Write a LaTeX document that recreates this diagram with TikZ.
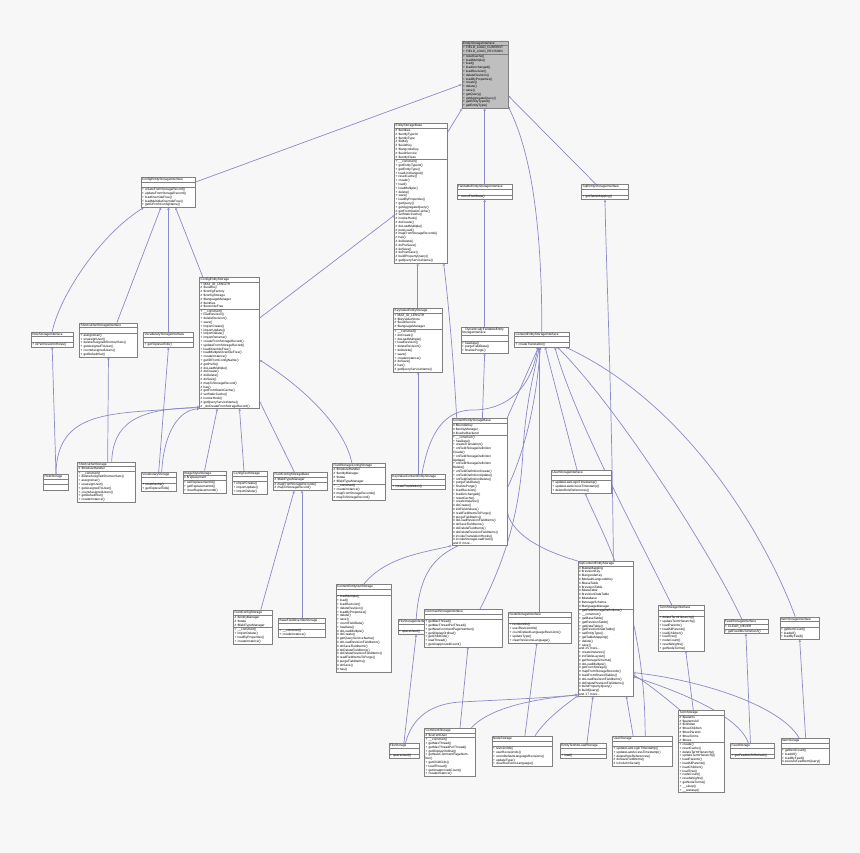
\documentclass[tikz,border=0pt]{standalone}
\usepackage{fontspec}
\setmainfont{Liberation Sans}
\usetikzlibrary{shapes.multipart,arrows.meta,calc}
\definecolor{edgeblue}{HTML}{8A8AC8}
\definecolor{boxline}{HTML}{808080}
\definecolor{canvas}{HTML}{F7F7F7}
\definecolor{rootfill}{HTML}{BFBFBF}
\pgfdeclarelayer{edges}
\pgfsetlayers{edges,main}
\tikzset{
  cls/.style={rectangle split,rectangle split parts=3,draw=boxline,fill=white,line width=0.35pt,
    anchor=north west,inner xsep=1.2pt,inner ysep=0.7pt,align=left,font=\fontsize{3.2}{3.8}\selectfont},
  inh/.style={draw=edgeblue,line width=0.7pt,-{Triangle[open,length=2.2pt,width=2.4pt,line width=0.4pt]}}
}
% name, position, text width, title, attributes, methods
\newcommand{\umlcls}[6]{\node[cls,text width=#3] (#1) at (#2) {\centering #4\nodepart{second}#5\nodepart{third}#6};}
\begin{document}
\begin{tikzpicture}[x=1pt,y=-1pt]
  \useasboundingbox (0,0) rectangle (860,853);
  % classes
  \node[cls,fill=rootfill,text width=43.6pt] (esi) at (461.7,40.7) {\centering EntityStorageInterface\nodepart{second}+ FIELD\_LOAD\_CURRENT\\+ FIELD\_LOAD\_REVISION\nodepart{third}+ resetCache()\\+ loadMultiple()\\+ load()\\+ loadUnchanged()\\+ loadRevision()\\+ deleteRevision()\\+ loadByProperties()\\+ create()\\+ delete()\\+ save()\\+ getQuery()\\+ getAggregateQuery()\\+ getEntityTypeId()\\+ getEntityType()};
  \umlcls{fesi}{456.7,184.3}{53.2pt}{FieldableEntityStorageInterface}{\strut}{+ countFieldData()}
  \umlcls{sesi}{581.3,184.3}{44.6pt}{SqlEntityStorageInterface}{\strut}{+ getTableMapping()}
  \umlcls{esb}{394.3,123.3}{50.6pt}{EntityStorageBase}{\# \$entities\\\# \$entityTypeId\\\# \$entityType\\\# \$idKey\\\# \$uuidKey\\\# \$langcodeKey\\\# \$uuidService\\\# \$entityClass}{+ \_\_construct()\\+ getEntityTypeId()\\+ getEntityType()\\+ loadUnchanged()\\+ resetCache()\\+ create()\\+ load()\\+ loadMultiple()\\+ delete()\\+ save()\\+ loadByProperties()\\+ getQuery()\\+ getAggregateQuery()\\\# getFromStaticCache()\\\# setStaticCache()\\\# invokeHook()\\\# doCreate()\\\# doLoadMultiple()\\\# postLoad()\\\# mapFromStorageRecords()\\\# has()\\\# doDelete()\\\# doPreSave()\\\# doSave()\\\# doPostSave()\\\# buildPropertyQuery()\\\# getQueryServiceName()}
  \umlcls{cfgsi}{140.7,177}{52.2pt}{ConfigEntityStorageInterface}{\strut}{+ createFromStorageRecord()\\+ updateFromStorageRecord()\\+ loadOverrideFree()\\+ loadMultipleOverrideFree()\\+ getIDFromConfigName()}
  \umlcls{cfgs}{199.3,277}{57.6pt}{ConfigEntityStorage}{+ MAX\_ID\_LENGTH\\\# \$uuidKey\\\# \$configFactory\\\# \$configStorage\\\# \$languageManager\\\# \$entities\\\# \$overrideFree}{+ \_\_construct()\\+ loadRevision()\\+ deleteRevision()\\+ save()\\+ importCreate()\\+ importUpdate()\\+ importDelete()\\+ importRename()\\+ createFromStorageRecord()\\+ updateFromStorageRecord()\\+ loadOverrideFree()\\+ loadMultipleOverrideFree()\\+ createInstance()\\+ getIDFromConfigName()\\\# getPrefix()\\\# doLoadMultiple()\\\# doCreate()\\\# doDelete()\\\# doSave()\\\# mapToStorageRecord()\\\# has()\\\# getFromStaticCache()\\\# setStaticCache()\\\# invokeHook()\\\# getQueryServiceName()\\\# \_doCreateFromStorageRecord()}
  \umlcls{rolesi}{31,331.7}{39.6pt}{RoleStorageInterface}{\strut}{+ isPermissionInRoles()}
  \umlcls{ssi}{79.3,322.7}{55.6pt}{ShortcutSetStorageInterface}{\strut}{+ assignUser()\\+ unassignUser()\\+ deleteAssignedShortcutSets()\\+ getAssignedToUser()\\+ countAssignedUsers()\\+ getDefaultSet()}
  \umlcls{vsi}{143.3,332}{47.6pt}{VocabularyStorageInterface}{\strut}{+ getToplevelTids()}
  \umlcls{roles}{43.3,474}{22.6pt}{RoleStorage}{\strut}{\strut}
  \umlcls{sss}{77.3,461.7}{55pt}{ShortcutSetStorage}{\# \$moduleHandler}{+ \_\_construct()\\+ deleteAssignedShortcutSets()\\+ assignUser()\\+ unassignUser()\\+ getAssignedToUser()\\+ countAssignedUsers()\\+ getDefaultSet()\\+ createInstance()}
  \umlcls{vs}{141,472.3}{32.6pt}{VocabularyStorage}{\strut}{+ resetCache()\\+ getToplevelTids()}
  \umlcls{iss}{182.7,470.7}{40.9pt}{ImageStyleStorage}{\# \$replacement}{+ setReplacementId()\\+ getReplacementId()\\+ clearReplacementId()}
  \umlcls{cts}{232.3,471}{32.6pt}{ConfigTestStorage}{\strut}{+ importCreate()\\+ importUpdate()\\+ importDelete()}
  \umlcls{fcsb}{273.3,472.3}{51pt}{FieldConfigStorageBase}{\# \$fieldTypeManager}{\# mapFromStorageRecords()\\\# mapToStorageRecord()}
  \umlcls{fscs}{332.3,462.7}{50.3pt}{FieldStorageConfigStorage}{\# \$moduleHandler\\\# \$entityManager\\\# \$state\\\# \$fieldTypeManager}{+ \_\_construct()\\+ createInstance()\\\# mapFromStorageRecords()\\\# mapToStorageRecord()}
  \umlcls{kves}{393.3,308.3}{46pt}{KeyValueEntityStorage}{+ MAX\_ID\_LENGTH\\\# \$keyValueStore\\\# \$uuidService\\\# \$languageManager}{+ \_\_construct()\\+ doCreate()\\+ doLoadMultiple()\\+ loadRevision()\\+ deleteRevision()\\+ doDelete()\\+ save()\\+ createInstance()\\\# doSave()\\\# has()\\\# getQueryServiceName()}
  \umlcls{kvces}{391,474.3}{51.6pt}{KeyValueContentEntityStorage}{\strut}{+ createTranslation()}
  \umlcls{dfesi}{460.7,326.7}{45.2pt}{DynamicallyFieldableEntity\\StorageInterface}{\strut}{+ hasData()\\+ purgeFieldData()\\+ finalizePurge()}
  \umlcls{cesi}{514.3,331.7}{52.3pt}{ContentEntityStorageInterface}{\strut}{+ createTranslation()}
  \umlcls{cesb}{451.7,418.3}{52.6pt}{ContentEntityStorageBase}{\# \$bundleKey\\\# \$entityManager\\\# \$cacheBackend}{+ \_\_construct()\\+ hasData()\\+ createTranslation()\\+ onFieldStorageDefinition\\Create()\\+ onFieldStorageDefinition\\Update()\\+ onFieldStorageDefinition\\Delete()\\+ onFieldDefinitionCreate()\\+ onFieldDefinitionUpdate()\\+ onFieldDefinitionDelete()\\+ purgeFieldData()\\+ finalizePurge()\\+ loadRevision()\\+ loadUnchanged()\\+ resetCache()\\+ createInstance()\\\# doCreate()\\\# initFieldValues()\\\# readFieldItemsToPurge()\\\# purgeFieldItems()\\\# doLoadRevisionFieldItems()\\\# doSaveFieldItems()\\\# doDeleteFieldItems()\\\# doDeleteRevisionFieldItems()\\\# invokeTranslationHooks()\\\# invokeStorageLoadHook()\\and 8 more...}
  \umlcls{usi}{551,470}{57.3pt}{UserStorageInterface}{\strut}{+ updateLastLoginTimestamp()\\+ updateLastAccessTimestamp()\\+ deleteRoleReferences()}
  \umlcls{cens}{335.7,584.3}{53.2pt}{ContentEntityNullStorage}{\strut}{+ loadMultiple()\\+ load()\\+ loadRevision()\\+ deleteRevision()\\+ loadByProperties()\\+ delete()\\+ save()\\+ countFieldData()\\+ hasData()\\\# doLoadMultiple()\\\# doCreate()\\\# getQueryServiceName()\\\# doLoadRevisionFieldItems()\\\# doSaveFieldItems()\\\# doDeleteFieldItems()\\\# doDeleteRevisionFieldItems()\\\# readFieldItemsToPurge()\\\# purgeFieldItems()\\\# doSave()\\\# has()}
  \umlcls{bfos}{278.3,618.3}{44.6pt}{BaseFieldOverrideStorage}{\strut}{+ \_\_construct()\\+ createInstance()}
  \umlcls{fcs}{233.3,610.3}{36.6pt}{FieldConfigStorage}{\# \$entityManager\\\# \$state\\\# \$fieldTypeManager}{+ \_\_construct()\\+ importDelete()\\+ loadByProperties()\\+ createInstance()}
  \umlcls{fsi}{397.7,619.3}{34.2pt}{FileStorageInterface}{\strut}{+ spaceUsed()}
  \umlcls{fs}{388.7,743.3}{27.6pt}{FileStorage}{\strut}{+ spaceUsed()}
  \umlcls{cs}{424.3,728.3}{48.6pt}{CommentStorage}{\# \$currentUser}{+ \_\_construct()\\+ getMaxThread()\\+ getMaxThreadPerThread()\\+ getDisplayOrdinal()\\+ getNewCommentPageNumber()\\+ getChildCids()\\+ loadThread()\\+ getUnapprovedCount()\\+ createInstance()}
  \umlcls{csi}{424,609}{75.3pt}{CommentStorageInterface}{\strut}{+ getMaxThread()\\+ getMaxThreadPerThread()\\+ getNewCommentPageNumber()\\+ getDisplayOrdinal()\\+ getChildCids()\\+ loadThread()\\+ getUnapprovedCount()}
  \umlcls{nsi}{508.3,612.3}{60.3pt}{NodeStorageInterface}{\strut}{+ revisionIds()\\+ userRevisionIds()\\+ countDefaultLanguageRevisions()\\+ updateType()\\+ clearRevisionsLanguage()}
  \umlcls{scs}{577.7,561}{52.6pt}{SqlContentEntityStorage}{\# \$tableMapping\\\# \$revisionKey\\\# \$langcodeKey\\\# \$defaultLangcodeKey\\\# \$baseTable\\\# \$revisionTable\\\# \$dataTable\\\# \$revisionDataTable\\\# \$database\\\# \$storageSchema\\\# \$languageManager}{+ getFieldStorageDefinitions()\\+ \_\_construct()\\+ getBaseTable()\\+ getRevisionTable()\\+ getDataTable()\\+ getRevisionDataTable()\\+ setEntityType()\\+ getTableMapping()\\+ delete()\\+ save()\\and 25 more...\\+ createInstance()\\\# initTableLayout()\\\# getStorageSchema()\\\# doLoadMultiple()\\\# getFromStorage()\\\# mapFromStorageRecords()\\\# loadFromSharedTables()\\\# doLoadRevisionFieldItems()\\\# doDeleteRevisionFieldItems()\\\# buildPropertyQuery()\\\# buildQuery()\\and 17 more...}
  \umlcls{etnls}{560,743.3}{43.6pt}{EntityTestNoLoadStorage}{\strut}{+ load()}
  \umlcls{ns}{491.7,736}{57.6pt}{NodeStorage}{\strut}{+ revisionIds()\\+ userRevisionIds()\\+ countDefaultLanguageRevisions()\\+ updateType()\\+ clearRevisionsLanguage()}
  \umlcls{us}{612.3,736}{57pt}{UserStorage}{\strut}{+ updateLastLoginTimestamp()\\+ updateLastAccessTimestamp()\\+ deleteRoleReferences()\\\# doSaveFieldItems()\\\# isColumnSerial()}
  \umlcls{tsi}{658.3,605.3}{43.6pt}{TermStorageInterface}{\strut}{+ deleteTermHierarchy()\\+ updateTermHierarchy()\\+ loadParents()\\+ loadAllParents()\\+ loadChildren()\\+ loadTree()\\+ nodeCount()\\+ resetWeights()\\+ getNodeTerms()}
  \umlcls{feedsi}{723.7,619.3}{41.6pt}{FeedStorageInterface}{+ CLEAR\_NEVER}{+ getFeedIdsToRefresh()}
  \umlcls{itemsi}{779.7,616.7}{37.2pt}{ItemStorageInterface}{\strut}{+ getItemCount()\\+ loadAll()\\+ loadByFeed()}
  \umlcls{ts}{678.3,710.3}{43.3pt}{TermStorage}{\# \$parents\\\# \$parentsAll\\\# \$children\\\# \$treeChildren\\\# \$treeParents\\\# \$treeTerms\\\# \$trees}{+ create()\\+ resetCache()\\+ deleteTermHierarchy()\\+ updateTermHierarchy()\\+ loadParents()\\+ loadAllParents()\\+ loadChildren()\\+ loadTree()\\+ nodeCount()\\+ resetWeights()\\+ getNodeTerms()\\+ \_\_sleep()\\+ \_\_wakeup()}
  \umlcls{feeds}{730.3,743.3}{41.6pt}{FeedStorage}{\strut}{+ getFeedIdsToRefresh()}
  \umlcls{items}{780.7,738}{46.2pt}{ItemStorage}{\strut}{+ getItemCount()\\+ loadAll()\\+ loadByFeed()\\\# executeFeedItemQuery()}
  % inheritance, drawn below the boxes
  \begin{pgfonlayer}{edges}
  \fill[canvas] (0,0) rectangle (860,853);
  \draw[inh] ($(cfgsi.north east)+(0,5)$) -- ($(esi.west)+(0,10)$);
  \draw[inh] ($(esb.north east)+(0,9)$) -- ($(esi.south west)+(0.5,0)$);
  \draw[inh] (fesi.north) -- (fesi.north |- esi.south);
  \draw[inh] (cesi.north) .. controls (542,220) and (530,150) .. ($(esi.south east)+(0,-2)$);
  \draw[inh] ($(sesi.north)+(-9,0)$) -- ($(esi.east)+(0,21)$);
  \draw[inh] ($(cfgs.north west)+(3.5,0)$) -- ($(cfgsi.south)+(7.3,0)$);
  \draw[inh] ($(cfgs.north east)+(0,41)$) -- ($(esb.north west)+(0,92)$);
  \draw[inh] (rolesi.north) .. controls (60,295) and (100,235) .. ($(cfgsi.south west)+(3,0)$);
  \draw[inh] ($(ssi.north)+(8.4,0)$) -- ($(cfgsi.south)+(-7.3,0)$);
  \draw[inh] (vsi.north) -- (vsi.north |- cfgsi.south);
  \draw[inh] (roles.north) -- (rolesi.south);
  \draw[inh] (roles.north) .. controls (57,405) and (120,415) .. ($(cfgs.south west)+(0,-2)$);
  \draw[inh] ($(sss.north)+(1.5,0)$) -- (ssi.south);
  \draw[inh] ($(sss.north)+(5.5,0)$) .. controls (113,425) and (135,408) .. ($(cfgs.south west)+(0,-1)$);
  \draw[inh] (vs.north) -- (vsi.south);
  \draw[inh] ($(vs.north)+(3,0)$) .. controls (164,430) and (180,410) .. ($(cfgs.south west)+(0,0)$);
  \draw[inh] (iss.north) -- ($(cfgs.south west)+(18,0)$);
  \draw[inh] ($(cts.north)+(-6,0)$) -- ($(cfgs.south)+(10,0)$);
  \draw[inh] ($(fcsb.north)+(-5.7,0)$) -- ($(cfgs.south east)+(0,-7.4)$);
  \draw[inh] ($(fscs.north)+(-7,0)$) .. controls (345,430) and (310,392) .. ($(cfgs.north east)+(0,83)$);
  \draw[inh] ($(fcs.north east)+(-12,0)$) -- ($(fcsb.south)+(-6,0)$);
  \draw[inh] (bfos.north) -- (bfos.north |- fcsb.south);
  \draw[inh] (kves.north) -- (kves.north |- esb.south);
  \draw[inh] (kvces.north) -- (kvces.north |- kves.south);
  \draw[inh] ($(kvces.north)+(3.7,0)$) .. controls (428,440) and (440,412) .. (470,410) .. controls (500,411) and (530,395) .. ($(cesi.south)+(-4,0)$);
  \draw[inh] ($(cesb.north west)+(5,0)$) .. controls (453,350) and (447,290) .. ($(esb.south east)+(-4,0)$);
  \draw[inh] ($(cesb.north)+(3,0)$) -- (dfesi.south);
  \draw[inh] (cesb.north east) -- ($(cesi.south)+(-3.3,0)$);
  \draw[inh] (dfesi.north) -- (dfesi.north |- fesi.south);
  \draw[inh] ($(scs.north)+(8,0)$) .. controls (612,400) and (606,260) .. (sesi.south);
  \draw[inh] (scs.north west) .. controls (540,550) and (515,535) .. ($(cesb.south east)+(0,-33)$);
  \draw[inh] (cens.north) .. controls (385,558) and (420,553) .. (cesb.south west);
  \draw[inh] (fsi.north) .. controls (420,560) and (445,552) .. (470,540) .. controls (515,500) and (535,420) .. ($(cesi.south)+(-1.5,0)$);
  \draw[inh] ($(csi.north)+(17,0)$) .. controls (500,570) and (520,520) .. (523,450) .. controls (526,400) and (535,370) .. ($(cesi.south)+(-2.5,0)$);
  \draw[inh] (nsi.north) -- (nsi.north |- cesi.south);
  \draw[inh] ($(usi.north)+(-4,0)$) -- ($(cesi.south)+(3.3,0)$);
  \draw[inh] ($(tsi.north)+(-9.6,0)$) .. controls (640,540) and (575,420) .. ($(cesi.south)+(13,0)$);
  \draw[inh] ($(feedsi.north)+(-4,0)$) .. controls (715,560) and (620,410) .. ($(cesi.south east)+(-12,0)$);
  \draw[inh] ($(itemsi.north)+(-4.5,0)$) .. controls (775,560) and (700,410) .. ($(cesi.south east)+(-4,0)$);
  \draw[inh] (fs.north) -- (fsi.south);
  \draw[inh] ($(fs.north)+(1.5,0)$) .. controls (412,718) and (430,704) .. (460,702) .. controls (520,699) and (560,697) .. ($(scs.south west)+(0,-2)$);
  \draw[inh] ($(cs.north)+(10,0)$) -- ($(csi.south)+(5,0)$);
  \draw[inh] ($(cs.north)+(21,0)$) .. controls (485,712) and (520,700) .. ($(scs.south west)+(0,-1.5)$);
  \draw[inh] ($(ns.north)+(3,0)$) -- ($(nsi.south)+(-3,0)$);
  \draw[inh] ($(ns.north)+(13,0)$) .. controls (545,720) and (565,705) .. ($(scs.south west)+(0.5,-1)$);
  \draw[inh] ($(etnls.north)+(3.7,0)$) -- ($(scs.south)+(-12.5,0)$);
  \draw[inh] ($(us.north)+(-9,0)$) -- ($(scs.south)+(21,0)$);
  \draw[inh] ($(us.north)+(3,0)$) .. controls (645,600) and (600,530) .. ($(usi.south)+(4,0)$);
  \draw[inh] ($(ts.north)+(-8,0)$) -- ($(tsi.south)+(4.3,0)$);
  \draw[inh] ($(ts.north west)+(2,0)$) .. controls (668,700) and (650,685) .. ($(scs.south east)+(0,-22)$);
  \draw[inh] ($(feeds.north)+(-2,0)$) -- (feedsi.south);
  \draw[inh] ($(feeds.north)+(-4,0)$) .. controls (740,718) and (690,695) .. ($(scs.south east)+(0,-20)$);
  \draw[inh] ($(items.north)+(0.5,0)$) -- (itemsi.south);
  \draw[inh] ($(items.north)+(-6,0)$) .. controls (780,705) and (700,680) .. ($(scs.south east)+(0,-24)$);
  \end{pgfonlayer}
\end{tikzpicture}
\end{document}
